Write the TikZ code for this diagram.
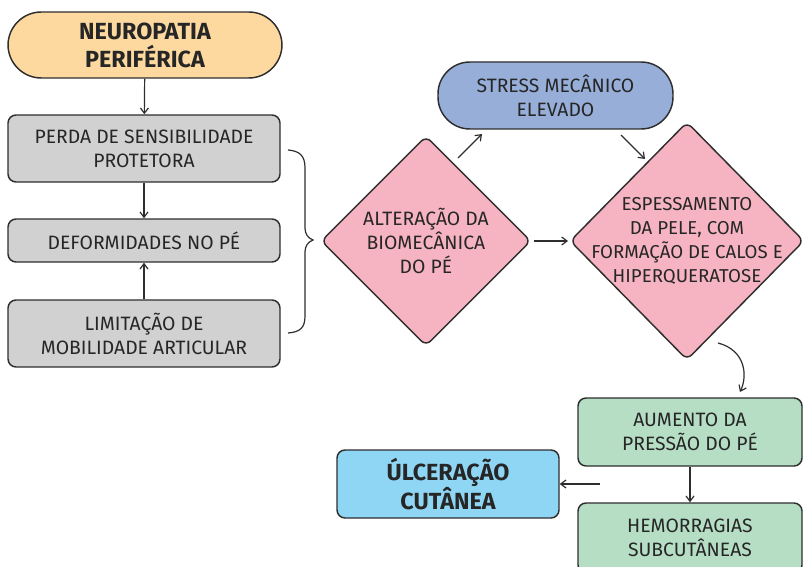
\documentclass[tikz,border=0pt]{standalone}
\usepackage{fontspec}
\setmainfont{Fira Sans}
\usetikzlibrary{shapes.geometric,arrows.meta}
\definecolor{cOrange}{HTML}{FDD9A0}
\definecolor{cGray}{HTML}{D1D1D1}
\definecolor{cPink}{HTML}{F6B4C2}
\definecolor{cBlue}{HTML}{97AED8}
\definecolor{cGreen}{HTML}{B6DEC5}
\definecolor{cCyan}{HTML}{8FD6F4}
\definecolor{cLine}{HTML}{2E2E2E}
\tikzset{
  base/.style={draw=cLine, line width=1.1pt, align=center, font=\fontsize{14.5}{18}\selectfont, inner sep=0pt, text=black!85},
  rbox/.style={base, rectangle, rounded corners=6pt},
  pill/.style={base, rectangle, rounded corners=25pt},
  dia/.style={base, diamond, rounded corners=5pt, inner sep=-20pt},
  conn/.style={draw=cLine, line width=0.9pt, -{Straight Barb[length=4pt,width=6pt]}},
  boldtxt/.style={font=\fontsize{17.5}{21}\selectfont\bfseries},
}
\begin{document}
\begin{tikzpicture}[x=0.75pt,y=-0.75pt]
\useasboundingbox (0,0) rectangle (804,567);
\node[pill, fill=cOrange, minimum width=274*0.75pt, minimum height=66*0.75pt, boldtxt] (neuro) at (145,45) {NEUROPATIA\\PERIFÉRICA};
\node[rbox, fill=cGray, minimum width=272*0.75pt, minimum height=67*0.75pt] (perda) at (144,148.5) {PERDA DE SENSIBILIDADE\\PROTETORA};
\node[rbox, fill=cGray, minimum width=272*0.75pt, minimum height=43*0.75pt] (deform) at (144,240.5) {DEFORMIDADES NO PÉ};
\node[rbox, fill=cGray, minimum width=272*0.75pt, minimum height=67*0.75pt] (limit) at (144,333.5) {LIMITAÇÃO DE\\MOBILIDADE ARTICULAR};
\node[dia, fill=cPink, minimum width=210*0.75pt, minimum height=210*0.75pt] (alt) at (426,241) {ALTERAÇÃO DA\\BIOMECÂNICA\\DO PÉ};
\node[pill, fill=cBlue, minimum width=235*0.75pt, minimum height=67*0.75pt, rounded corners=24pt] (stress) at (555.5,95.5) {STRESS MECÂNICO\\ELEVADO};
\node[dia, fill=cPink, minimum width=234*0.75pt, minimum height=238*0.75pt, font=\fontsize{14}{18}\selectfont] (esp) at (687,241) {ESPESSAMENTO\\DA PELE, COM\\FORMAÇÃO DE CALOS E\\HIPERQUERATOSE};
\node[rbox, fill=cGreen, minimum width=224*0.75pt, minimum height=68*0.75pt] (aum) at (690,432) {AUMENTO DA\\PRESSÃO DO PÉ};
\node[rbox, fill=cGreen, minimum width=224*0.75pt, minimum height=70*0.75pt] (hem) at (690,538) {HEMORRAGIAS\\SUBCUTÂNEAS};
\node[rbox, fill=cCyan, minimum width=222*0.75pt, minimum height=68*0.75pt, boldtxt] (ulc) at (448,484) {ÚLCERAÇÃO\\CUTÂNEA};
% connectors
\draw[conn] (neuro) -- (perda);
\draw[conn] (perda) -- (deform);
\draw[conn] (limit) -- (deform);
\coordinate (a1) at (458,158);
\coordinate (a2) at (482,134);
\draw[conn] (a1) -- (a2);
\coordinate (b1) at (621,135);
\coordinate (b2) at (645,159);
\draw[conn] (b1) -- (b2);
\coordinate (c1) at (534,241);
\coordinate (c2) at (568,241);
\draw[conn] (c1) -- (c2);
\coordinate (d1) at (718,343);
\coordinate (d2) at (740,392);
\draw[conn] (d1) .. controls (745,350) and (748,375) .. (d2);
\draw[conn] (aum) -- (hem);
\coordinate (e1) at (600,484);
\draw[conn] (e1) -- (ulc);
% brace
\coordinate (br1) at (288,150);
\coordinate (br2) at (288,333);
\coordinate (brtip) at (313,240);
\draw[draw=cLine, line width=0.9pt] (br1) .. controls (300,151) and (305,156) .. (305,168)
  -- (305,228) .. controls (305,234) and (308,238) .. (brtip)
  .. controls (308,242) and (305,246) .. (305,252)
  -- (305,316) .. controls (305,328) and (300,332) .. (br2);
\end{tikzpicture}
\end{document}
